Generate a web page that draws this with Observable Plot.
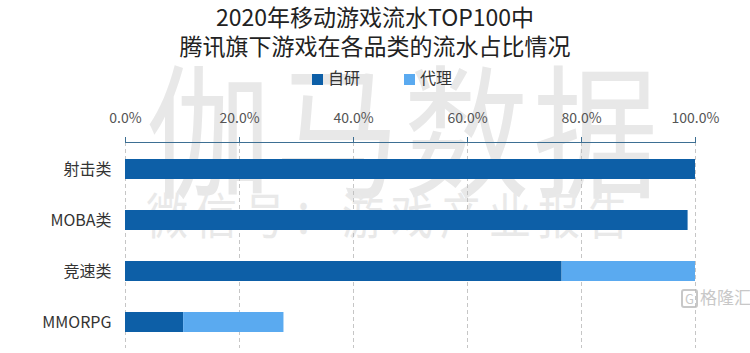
<!DOCTYPE html>
<html>
<head>
<meta charset="utf-8">
<script src="https://cdn.jsdelivr.net/npm/d3@7"></script>
<script src="https://cdn.jsdelivr.net/npm/@observablehq/plot@0.6"></script>
<style>
  html, body { margin: 0; padding: 0; background: #fff; }
  body { width: 750px; height: 353px; position: relative; overflow: hidden; font-family: "Noto Sans CJK SC", "Noto Sans", sans-serif; }
  .title { position: absolute; left: 0; top: 2px; width: 750px; text-align: center; font-size: 23px; line-height: 29px; color: #222; }
  .legend { position: absolute; top: 66px; left: 0; width: 750px; height: 22px; font-size: 16px; color: #333; }
  .legend span.item { position: absolute; top: 0; line-height: 22px; white-space: nowrap; }
  .legend span.sw { display: inline-block; width: 11px; height: 11px; margin-right: 5px; vertical-align: -0.5px; }
  .wm { position: absolute; white-space: nowrap; z-index: 0; transform-origin: 0 0; }
  .wm1 { left: 146px; top: 50px; font-size: 125px; letter-spacing: 4px; color: #e8e8e8; line-height: 130px; transform: scaleY(1.15); }
  .wm2 { left: 146px; top: 188px; font-size: 42px; letter-spacing: 7px; color: #e9e9e9; line-height: 44px; transform: scaleY(1.15); }
  .logo { position: absolute; left: 681px; top: 284px; font-size: 17px; color: #c8c8c8; white-space: nowrap; }
  .logo b { display: inline-block; border: 2px solid #c8c8c8; border-radius: 3px; font-weight: normal; font-size: 13px; line-height: 15px; padding: 0 2px; margin-right: 2px; }
  #chart { position: absolute; left: 0; top: 95px; z-index: 1; }
  .title, .legend { z-index: 2; }
</style>
</head>
<body>
<div class="wm wm1">伽马数据</div>
<div class="wm wm2">微信号：游戏产业报告</div>
<div class="title">2020年移动游戏流水TOP100中<br>腾讯旗下游戏在各品类的流水占比情况</div>
<div class="legend" id="legend"></div>
<div id="chart"></div>
<div class="logo"><b>G</b>格隆汇</div>
<script>
const categories = ["射击类", "MOBA类", "竞速类", "MMORPG"];
const seriesNames = ["自研", "代理"];
const ziyan = [100, 98.7, 76.6, 10.2];
const daili = [0, 0, 23.4, 17.6];
const tickValues = [0, 20, 40, 60, 80, 100];
const colors = ["#0d5fa7", "#5aaaf0"];

const rows = [];
categories.forEach((c, i) => {
  rows.push({cat: c, series: seriesNames[0], value: ziyan[i]});
  rows.push({cat: c, series: seriesNames[1], value: daili[i]});
});

// legend
const legend = document.getElementById("legend");
const legendX = [312, 404];
seriesNames.forEach((s, i) => {
  const it = document.createElement("span");
  it.className = "item";
  it.style.left = legendX[i] + "px";
  it.innerHTML = `<span class="sw" style="background:${colors[i]}"></span>${s}`;
  legend.appendChild(it);
});

const chart = Plot.plot({
  width: 750,
  height: 258,
  marginTop: 47,
  marginBottom: 5,
  marginLeft: 125,
  marginRight: 55,
  style: {background: "transparent", fontFamily: "'Noto Sans CJK SC', 'Noto Sans', sans-serif"},
  x: {domain: [0, 100], label: null},
  y: {domain: categories, paddingInner: 0.61, paddingOuter: 0.31, label: null},
  color: {domain: seriesNames, range: colors},
  marks: [
    Plot.gridX(tickValues, {stroke: "#b8b8b8", strokeOpacity: 1, strokeDasharray: "4,3", strokeWidth: 0.8}),
    Plot.barX(rows, Plot.stackX({x: "value", y: "cat", fill: "series", order: seriesNames})),
    Plot.frame({anchor: "top", stroke: "#3d6f93", strokeWidth: 1}),
    Plot.axisX(tickValues, {anchor: "top", tickSize: 6, tickPadding: 14, stroke: "#3d6f93", fontSize: 14, fill: "#555", label: null, tickFormat: d => d.toFixed(1) + "%"}),
    Plot.axisY({anchor: "left", tickSize: 0, tickPadding: 14, fontSize: 16, fill: "#333", label: null})
  ]
});
document.getElementById("chart").appendChild(chart);
</script>
</body>
</html>
